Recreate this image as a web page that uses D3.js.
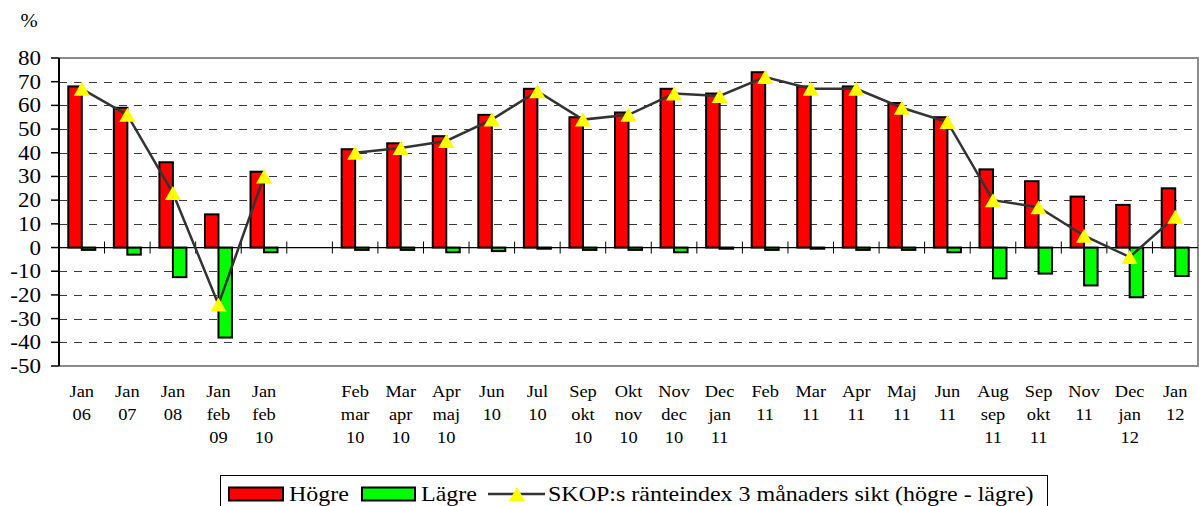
<!DOCTYPE html>
<html>
<head>
<meta charset="utf-8">
<script src="https://cdn.jsdelivr.net/npm/d3@7"></script>
<style>
  html, body { margin: 0; padding: 0; background: #fff; }
  svg { display: block; }
</style>
</head>
<body>
<svg id="chart" width="1199" height="506"></svg>
<script>
// ---- data ----
const categories = ["Jan|06","Jan|07","Jan|08","Jan|feb|09","Jan|feb|10","",
  "Feb|mar|10","Mar|apr|10","Apr|maj|10","Jun|10","Jul|10","Sep|okt|10","Okt|nov|10",
  "Nov|dec|10","Dec|jan|11","Feb|11","Mar|11","Apr|11","Maj|11","Jun|11",
  "Aug|sep|11","Sep|okt|11","Nov|11","Dec|jan|12","Jan|12"];
const hogre = [68,59,36,14,32,null,41.5,44,47,56,67,55,57,67,65,74,68,68,61,55,33,28,21.5,18,25];
const lagre = [-1,-3,-12.5,-38,-2,null,-1,-1,-2,-1.5,-0.5,-1,-1,-2,-0.5,-1,-0.5,-1,-1,-2,-13,-11,-16,-21,-12];
const ranteindex = [67,56,23,-24,30,null,40,42,45,54,66,54,56,65,64,72,67,67,59,53,20,17,5,-4,13];
const yTicks = [80,70,60,50,40,30,20,10,0,-10,-20,-30,-40,-50];
const seriesNames = ["Högre","Lägre","SKOP:s ränteindex 3 månaders sikt (högre - lägre)"];
const yUnit = "%";

// ---- layout ----
const FONT = "Liberation Serif";
const svg = d3.select("#chart");
const SX = 1.15; // horizontal text stretch
const plotL = 59, plotR = 1198, plotT = 58, plotB = 366;
const x = d3.scaleBand().domain(d3.range(categories.length)).range([plotL, plotR]).padding(0);
const xs = d3.scaleBand().domain(["h","l"]).range([0, x.bandwidth()]).paddingInner(0).paddingOuter(0.6875);
const y = d3.scaleLinear().domain([-50, 80]).range([plotB, plotT]);

function stext(g, xPos, yPos, str, size, anchor, sx) {
  return g.append("text")
    .attr("transform", `translate(${xPos},${yPos}) scale(${sx || SX},1)`)
    .attr("text-anchor", anchor)
    .attr("font-family", FONT)
    .attr("font-size", size)
    .attr("fill", "#000")
    .text(str);
}

// gridlines
const grid = svg.append("g");
yTicks.filter(t => t !== 80 && t !== -50 && t !== 0).forEach(t => {
  grid.append("line")
    .attr("x1", plotL).attr("x2", plotR)
    .attr("y1", Math.round(y(t)) + 0.5).attr("y2", Math.round(y(t)) + 0.5)
    .attr("stroke", "#3a3a3a").attr("stroke-width", 1.2)
    .attr("stroke-dasharray", "8,7");
});

// plot frame (top, right, bottom gray)
svg.append("path")
  .attr("d", `M${plotL},${y(80)}H${plotR}V${y(-50)}H${plotL}`)
  .attr("fill", "none").attr("stroke", "#8c8c8c").attr("stroke-width", 2);

// bars
const barG = svg.append("g");
categories.forEach((c, i) => {
  if (hogre[i] != null) {
    barG.append("rect")
      .attr("x", x(i) + xs("h")).attr("width", xs.bandwidth())
      .attr("y", y(hogre[i])).attr("height", y(0) - y(hogre[i]))
      .attr("fill", "#ff0000").attr("stroke", "#000").attr("stroke-width", 2);
  }
  if (lagre[i] != null) {
    barG.append("rect")
      .attr("x", x(i) + xs("l")).attr("width", xs.bandwidth())
      .attr("y", y(0)).attr("height", y(lagre[i]) - y(0))
      .attr("fill", "#00ff00").attr("stroke", "#000").attr("stroke-width", 2);
  }
});

// zero line + category ticks
svg.append("line")
  .attr("x1", plotL).attr("x2", plotR)
  .attr("y1", y(0)).attr("y2", y(0))
  .attr("stroke", "#000").attr("stroke-width", 1.3);
d3.range(1, categories.length).forEach(i => {
  svg.append("line")
    .attr("x1", x(i)).attr("x2", x(i))
    .attr("y1", y(0) - 6).attr("y2", y(0) + 6)
    .attr("stroke", "#000").attr("stroke-width", 1);
});

// y axis
const yAxisG = svg.append("g");
yAxisG.append("line")
  .attr("x1", plotL).attr("x2", plotL).attr("y1", plotT).attr("y2", plotB)
  .attr("stroke", "#000").attr("stroke-width", 2);
yTicks.forEach(t => {
  yAxisG.append("line")
    .attr("x1", plotL - 8).attr("x2", plotL).attr("y1", y(t)).attr("y2", y(t))
    .attr("stroke", "#000").attr("stroke-width", 1.5);
  stext(yAxisG, 41, y(t) + 7, String(t), 20, "end");
});
stext(svg, 29, 27, yUnit, 18, "middle");

// x labels
const xLab = svg.append("g");
categories.forEach((c, i) => {
  if (!c) return;
  c.split("|").forEach((line, k) => {
    stext(xLab, x(i) + x.bandwidth() / 2, 397 + k * 23, line, 16, "middle");
  });
});

// index line (break at null)
const line = d3.line()
  .defined(d => d != null)
  .x((d, i) => x(i) + x.bandwidth() / 2)
  .y(d => y(d));
svg.append("path")
  .datum(ranteindex)
  .attr("d", line)
  .attr("fill", "none").attr("stroke", "#333").attr("stroke-width", 2.5);

const tri = "M0,-7L8,7L-8,7Z";
ranteindex.forEach((v, i) => {
  if (v == null) return;
  svg.append("path")
    .attr("d", tri)
    .attr("transform", `translate(${x(i) + x.bandwidth() / 2},${y(v)})`)
    .attr("fill", "#ffff00");
});

// legend
const LSX = 1.2;
const lg = svg.append("g");
lg.append("rect")
  .attr("x", 220.5).attr("y", 475.5).attr("width", 827).attr("height", 60)
  .attr("fill", "#fff").attr("stroke", "#000").attr("stroke-width", 1);
lg.append("rect").attr("x", 229).attr("y", 487.5).attr("width", 54).attr("height", 13)
  .attr("fill", "#ff0000").attr("stroke", "#000").attr("stroke-width", 2);
stext(lg, 289, 501, seriesNames[0], 20, "start", LSX);
lg.append("rect").attr("x", 362).attr("y", 487.5).attr("width", 53).attr("height", 13)
  .attr("fill", "#00ff00").attr("stroke", "#000").attr("stroke-width", 2);
stext(lg, 421, 501, seriesNames[1], 20, "start", LSX);
lg.append("line").attr("x1", 488).attr("x2", 545).attr("y1", 494).attr("y2", 494)
  .attr("stroke", "#333").attr("stroke-width", 2.5);
lg.append("path").attr("d", tri).attr("transform", "translate(517,494)").attr("fill", "#ffff00");
stext(lg, 548, 501, seriesNames[2], 20, "start", LSX);
</script>
</body>
</html>
